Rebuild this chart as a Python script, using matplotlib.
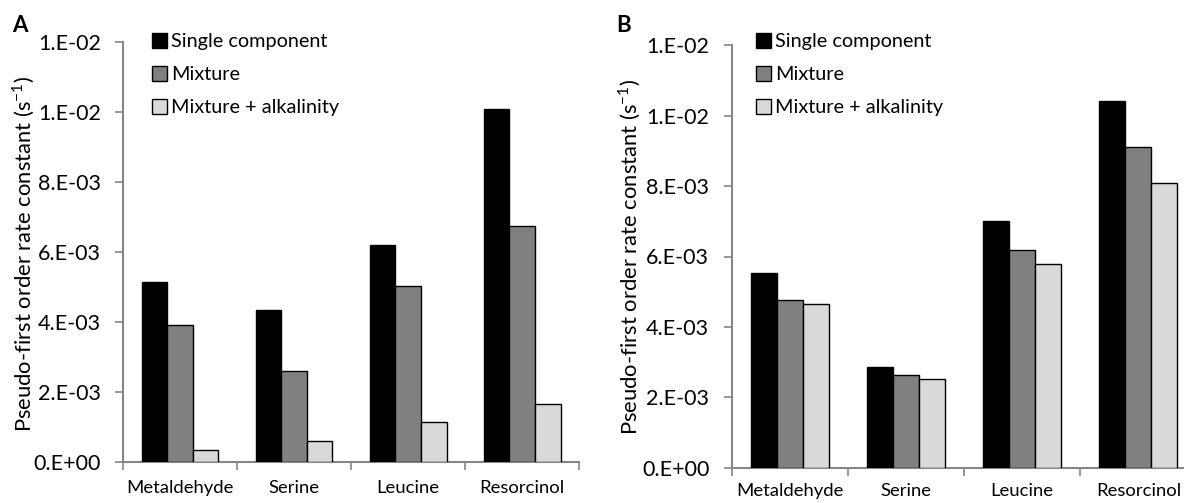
import matplotlib
matplotlib.use("Agg")
import matplotlib.pyplot as plt
import numpy as np
from matplotlib.patches import Patch

plt.rcParams['font.family'] = ['Lato', 'DejaVu Sans']

compounds = ["Metaldehyde", "Serine", "Leucine", "Resorcinol"]
series_names = ["Single component", "Mixture", "Mixture + alkalinity"]

# Pseudo-first order rate constants (s^-1), panel A
a_single = [0.00514, 0.00433, 0.00619, 0.01008]
a_mixture = [0.00391, 0.00259, 0.00502, 0.00672]
a_alkaline = [0.00034, 0.00059, 0.00113, 0.00164]

# Pseudo-first order rate constants (s^-1), panel B
b_single = [0.00554, 0.00285, 0.00701, 0.01043]
b_mixture = [0.00476, 0.00262, 0.00618, 0.00912]
b_alkaline = [0.00464, 0.00252, 0.00580, 0.00810]

y_ticks = [0.0, 0.002, 0.004, 0.006, 0.008, 0.010, 0.012]
y_tick_labels = ["0.E+00", "2.E-03", "4.E-03", "6.E-03", "8.E-03", "1.E-02", "1.E-02"]

bar_colors = ["#000000", "#808080", "#D9D9D9"]
axis_grey = "#868686"

W, H = 1184, 503
fig = plt.figure(figsize=(W / 100, H / 100), dpi=100)


def px_axes(left, right, bottom, top):
    return fig.add_axes([left / W, (H - bottom) / H, (right - left) / W, (bottom - top) / H])


def draw_panel(ax, series, letter, letter_xy, legend_x, legend_top, xpad, ylabel_xy):
    n = len(compounds)
    centers = np.arange(n) + 0.5
    width = 0.224
    offsets = [-width, 0.0, width]
    for vals, off, col in zip(series, offsets, bar_colors):
        ax.bar(centers + off, vals, width=width, color=col, edgecolor="black",
               linewidth=1.0, zorder=3)
    ax.set_xlim(0, n)
    ax.set_ylim(0, 0.012)

    ax.set_yticks(y_ticks)
    ax.set_yticklabels(y_tick_labels)
    ax.tick_params(axis="y", direction="out", length=6, width=1.2, color=axis_grey,
                   pad=10, labelsize=15.5)

    ax.set_xticks(np.arange(n + 1))
    ax.set_xticklabels([])
    ax.tick_params(axis="x", which="major", direction="out", length=5.5, width=1.2,
                   color=axis_grey)
    ax.set_xticks(centers, minor=True)
    ax.set_xticklabels(compounds, minor=True)
    ax.tick_params(axis="x", which="minor", length=0, pad=xpad, labelsize=13.3)

    for side in ("top", "right"):
        ax.spines[side].set_visible(False)
    for side in ("left", "bottom"):
        ax.spines[side].set_color(axis_grey)
        ax.spines[side].set_linewidth(1.5)

    ax.set_ylabel("Pseudo-first order rate constant (s$^{\\mathregular{-1}}$)",
                  fontsize=15.8, va="center")
    ax.yaxis.set_label_coords(ylabel_xy[0] / W, 1 - ylabel_xy[1] / H,
                              transform=fig.transFigure)

    fig.text(letter_xy[0] / W, 1 - letter_xy[1] / H, letter, fontsize=16,
             fontweight="bold", ha="left", va="center")

    handles = [Patch(facecolor=c, edgecolor="black", linewidth=1.0) for c in bar_colors]
    ax.legend(handles, series_names, loc="upper left",
              bbox_to_anchor=(legend_x / W, 1 - legend_top / H), bbox_transform=fig.transFigure,
              frameon=False, fontsize=14.3, handlelength=0.75, handleheight=0.75,
              handletextpad=0.2, labelspacing=0.8, borderpad=0, borderaxespad=0)


ax_a = px_axes(123, 579.3, 461.7, 41.7)
draw_panel(ax_a, [a_single, a_mixture, a_alkaline], "A", (12, 25), 152, 33, 13, (24, 254))

ax_b = px_axes(731.5, 1196.5, 467.7, 45.3)
draw_panel(ax_b, [b_single, b_mixture, b_alkaline], "B", (616, 25), 756, 33, 11, (630, 257))

fig.savefig("out.png", dpi=100)
